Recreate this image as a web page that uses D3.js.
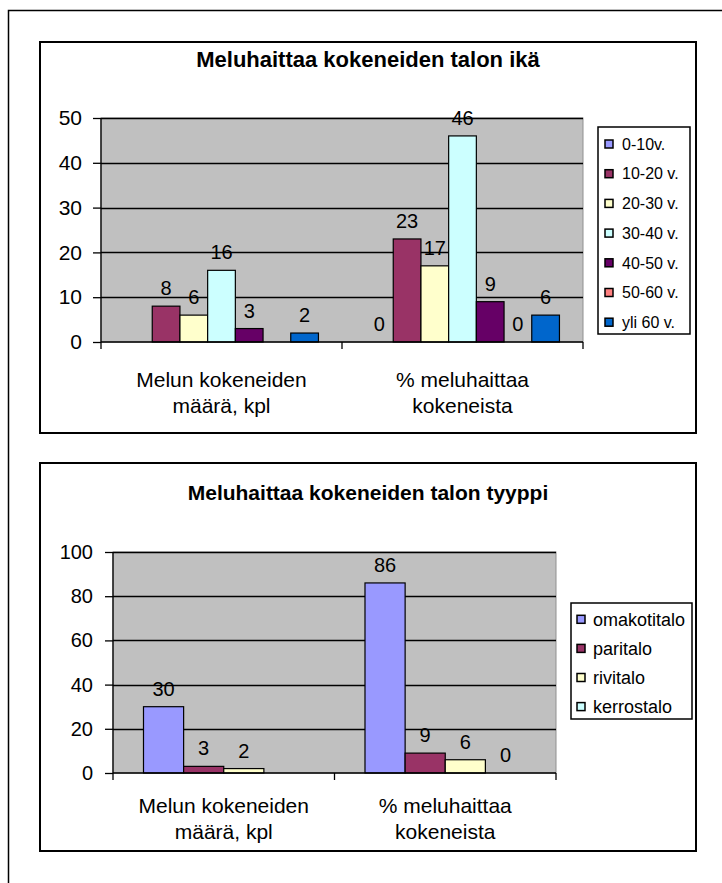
<!DOCTYPE html>
<html>
<head>
<meta charset="utf-8">
<script src="https://cdn.jsdelivr.net/npm/d3@7/dist/d3.min.js"></script>
<style>
  html, body { margin: 0; padding: 0; background: #fff; }
  svg { display: block; font-family: "Liberation Sans", Arial, sans-serif; }
</style>
</head>
<body>
<svg id="page" width="722" height="883"></svg>
<script>
// Category labels shared by both charts (two lines each)
const categoryLines = [
  ["Melun kokeneiden", "määrä, kpl"],
  ["% meluhaittaa", "kokeneista"]
];
const categories = categoryLines.map(l => l.join(" "));

// Chart 1: age of the house
const ageTitle = "Meluhaittaa kokeneiden talon ikä";
const ageSeries = ["0-10v.", "10-20 v.", "20-30 v.", "30-40 v.", "40-50 v.", "50-60 v.", "yli 60 v."];
const ageCount = [null, 8, 6, 16, 3, null, 2];
const agePercent = [0, 23, 17, 46, 9, 0, 6];
const ageTicks = [0, 10, 20, 30, 40, 50];

// Chart 2: type of the house
const typeTitle = "Meluhaittaa kokeneiden talon tyyppi";
const typeSeries = ["omakotitalo", "paritalo", "rivitalo", "kerrostalo"];
const typeCount = [30, 3, 2, null];
const typePercent = [86, 9, 6, 0];
const typeTicks = [0, 20, 40, 60, 80, 100];

// Classic spreadsheet palette
const palette = ["#9999FF", "#993366", "#FFFFCC", "#CCFFFF", "#660066", "#FF8080", "#0066CC"];

const svg = d3.select("#page");

// Outer page frame (runs off the right and bottom edges)
svg.append("path")
  .attr("d", "M8.5,900 V10.5 H740")
  .attr("fill", "none").attr("stroke", "#000").attr("stroke-width", 1.5);

function drawChart(cfg) {
  const g = svg.append("g");

  // chart box
  g.append("rect")
    .attr("x", cfg.box.x).attr("y", cfg.box.y)
    .attr("width", cfg.box.w).attr("height", cfg.box.h)
    .attr("fill", "#fff").attr("stroke", "#000").attr("stroke-width", 2);

  // title
  g.append("text")
    .attr("x", cfg.titleX).attr("y", cfg.titleY)
    .attr("text-anchor", "middle")
    .attr("font-weight", "bold").attr("font-size", cfg.titleSize)
    .text(cfg.title);

  const x0 = d3.scaleBand().domain(categories).range([cfg.plot.x0, cfg.plot.x1]).padding(0);
  const x1 = d3.scaleBand().domain(cfg.series).range([0, x0.bandwidth()])
    .paddingInner(0).paddingOuter(cfg.outerPad);
  const y = d3.scaleLinear().domain([0, d3.max(cfg.ticks)]).range([cfg.plot.y1, cfg.plot.y0]);

  // plot area
  g.append("rect")
    .attr("x", cfg.plot.x0).attr("y", cfg.plot.y0)
    .attr("width", cfg.plot.x1 - cfg.plot.x0).attr("height", cfg.plot.y1 - cfg.plot.y0)
    .attr("fill", "#C0C0C0").attr("stroke", "#909090").attr("stroke-width", 1);

  // gridlines
  g.append("g").selectAll("line").data(cfg.ticks.filter(t => t > 0)).join("line")
    .attr("x1", cfg.plot.x0).attr("x2", cfg.plot.x1)
    .attr("y1", d => Math.round(y(d)) + 0.5).attr("y2", d => Math.round(y(d)) + 0.5)
    .attr("stroke", "#000").attr("stroke-width", 1.3);

  // bars
  const rows = categories.map((c, ci) => ({
    cat: c,
    vals: cfg.series.map((s, si) => ({ s, si, v: cfg.values[ci][si] }))
  }));
  const groups = g.append("g").selectAll("g").data(rows).join("g")
    .attr("transform", d => `translate(${x0(d.cat)},0)`);
  groups.selectAll("rect").data(d => d.vals.filter(e => e.v !== null && e.v > 0)).join("rect")
    .attr("x", d => x1(d.s)).attr("width", x1.bandwidth())
    .attr("y", d => y(d.v)).attr("height", d => y(0) - y(d.v))
    .attr("fill", d => palette[d.si]).attr("stroke", "#000").attr("stroke-width", 1.2);
  groups.selectAll("text").data(d => d.vals.filter(e => e.v !== null)).join("text")
    .attr("x", d => x1(d.s) + x1.bandwidth() / 2)
    .attr("y", d => y(d.v) - cfg.labelGap)
    .attr("text-anchor", "middle").attr("font-size", cfg.labelSize)
    .text(d => d.v);

  // value axis
  const yAxis = d3.axisLeft(y).tickValues(cfg.ticks).tickSize(8).tickPadding(cfg.tickPad).tickFormat(d3.format("d"));
  const ya = g.append("g").attr("transform", `translate(${cfg.plot.x0},0)`).call(yAxis);
  ya.select(".domain").attr("stroke", "#000").attr("stroke-width", 1.3).attr("d", `M0,${cfg.plot.y0}V${cfg.plot.y1}`);
  ya.selectAll(".tick line").attr("stroke", "#000").attr("stroke-width", 1.3);
  ya.selectAll(".tick text").attr("font-size", cfg.tickSize).attr("fill", "#000")
    .attr("font-family", "Liberation Sans, Arial, sans-serif");

  // category axis: baseline and boundary ticks
  g.append("line")
    .attr("x1", cfg.plot.x0).attr("x2", cfg.plot.x1)
    .attr("y1", cfg.plot.y1).attr("y2", cfg.plot.y1)
    .attr("stroke", "#000").attr("stroke-width", 1.5);
  const bounds = categories.map(c => x0(c)).concat([cfg.plot.x1]);
  g.append("g").selectAll("line").data(bounds).join("line")
    .attr("x1", d => d).attr("x2", d => d)
    .attr("y1", cfg.plot.y1).attr("y2", cfg.plot.y1 + 7)
    .attr("stroke", "#000").attr("stroke-width", 1.3);

  // category labels
  g.append("g").selectAll("text").data(categoryLines).join("text")
    .attr("text-anchor", "middle").attr("font-size", cfg.catSize)
    .attr("transform", (d, i) => `translate(${x0(categories[i]) + x0.bandwidth() / 2},${cfg.catY})`)
    .selectAll("tspan").data(d => d).join("tspan")
    .attr("x", 0).attr("y", (d, i) => i * cfg.catLine)
    .text(d => d);

  // legend
  const L = cfg.legend;
  g.append("rect")
    .attr("x", L.x).attr("y", L.y).attr("width", L.w).attr("height", L.h)
    .attr("fill", "#fff").attr("stroke", "#000").attr("stroke-width", 1.5);
  const items = g.append("g").selectAll("g").data(cfg.series).join("g")
    .attr("transform", (d, i) => `translate(${L.x},${L.row0 + i * L.step})`);
  items.append("rect")
    .attr("x", L.swX).attr("y", -L.sw / 2).attr("width", L.sw).attr("height", L.sw)
    .attr("fill", (d, i) => palette[i]).attr("stroke", "#000").attr("stroke-width", 1.5);
  items.append("text")
    .attr("x", L.textX).attr("dy", "0.36em").attr("font-size", L.size)
    .text(d => d);
}

drawChart({
  title: ageTitle, titleX: 368, titleY: 67, titleSize: 22,
  box: { x: 40, y: 42, w: 656, h: 391 },
  plot: { x0: 101, x1: 583, y0: 118, y1: 342 },
  series: ageSeries, values: [ageCount, agePercent], ticks: ageTicks,
  outerPad: 0.85, labelGap: 11, labelSize: 20,
  tickSize: 21, tickPad: 11,
  catY: 387, catLine: 26, catSize: 21,
  legend: { x: 598, y: 127, w: 92, h: 207, row0: 144, step: 29.7, swX: 7, sw: 8, textX: 24, size: 16 }
});

drawChart({
  title: typeTitle, titleX: 368, titleY: 500, titleSize: 21,
  box: { x: 40, y: 463, w: 656, h: 388 },
  plot: { x0: 113, x1: 556, y0: 552, y1: 773 },
  series: typeSeries, values: [typeCount, typePercent], ticks: typeTicks,
  outerPad: 0.76, labelGap: 11, labelSize: 20,
  tickSize: 20, tickPad: 12,
  catY: 813, catLine: 26, catSize: 21,
  legend: { x: 571, y: 603, w: 121, h: 116, row0: 619.3, step: 29.1, swX: 6, sw: 8, textX: 22, size: 18 }
});
</script>
</body>
</html>
